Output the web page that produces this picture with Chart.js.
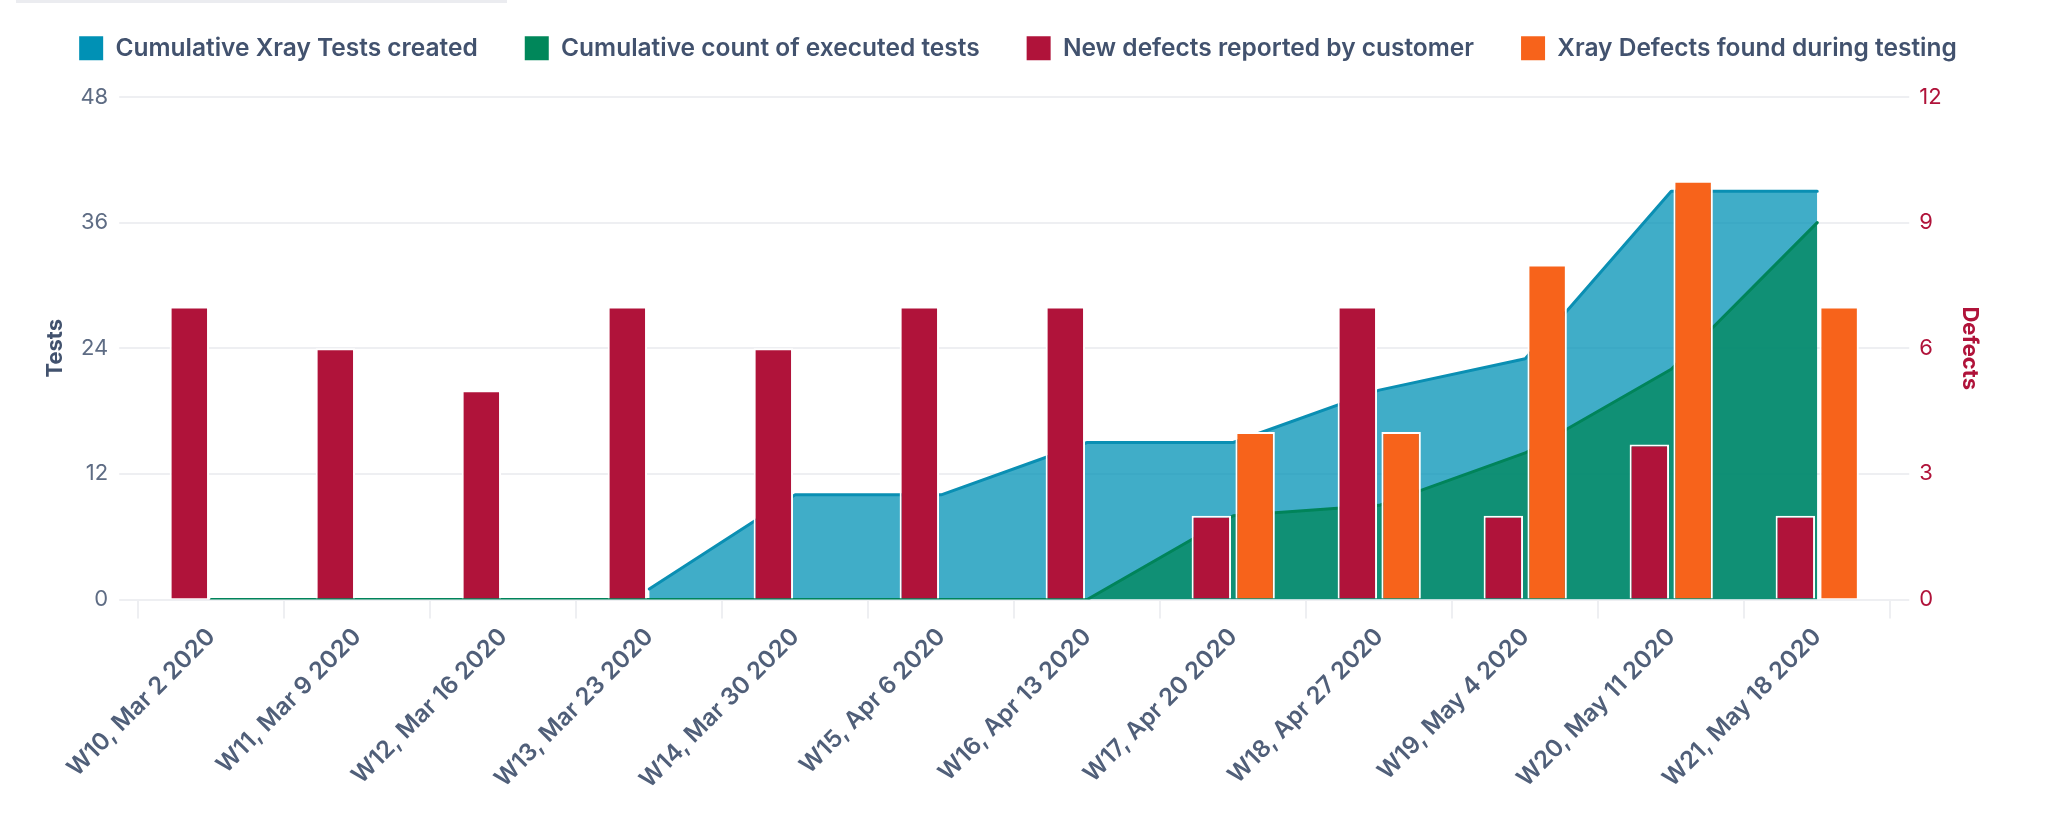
<!DOCTYPE html>
<html>
<head>
<meta charset="utf-8">
<title>Xray tests and defects per week</title>
<script src="https://cdn.jsdelivr.net/npm/chart.js@4.4.1/dist/chart.umd.min.js"></script>
<style>
    html, body { margin: 0; padding: 0; background: #ffffff; }
    #wrap { position: relative; width: 2058px; height: 822px; }
    #tabline { position: absolute; left: 16px; top: 0; width: 491px; height: 3px; background: #ebecf0; }
</style>
</head>
<body>
<div id="wrap">
    <div id="tabline"></div>
    <canvas id="testsChart"></canvas>
</div>
<script>
// Weeks on the x axis
const weeks = [
    'W10, Mar 2 2020', 'W11, Mar 9 2020', 'W12, Mar 16 2020', 'W13, Mar 23 2020',
    'W14, Mar 30 2020', 'W15, Apr 6 2020', 'W16, Apr 13 2020', 'W17, Apr 20 2020',
    'W18, Apr 27 2020', 'W19, May 4 2020', 'W20, May 11 2020', 'W21, May 18 2020'
];

// Left axis (Tests)
const testsCreated = [null, null, null, 1, 10, 10, 15, 15, 20, 23, 39, 39];
const testsExecuted = [0, 0, 0, 0, 0, 0, 0, 8, 9, 14, 22, 36];

// Right axis (Defects)
const customerDefects = [7, 6, 5, 7, 6, 7, 7, 2, 7, 2, 3.7, 2];
const testingDefects = [null, null, null, null, null, null, null, 4, 4, 8, 10, 7];

const testTicks = [0, 12, 24, 36, 48];
const defectTicks = [0, 3, 6, 9, 12];

const slate = '#42526e';
const gridColor = '#eeeff2';
const crimson = '#b0133a';
const legendColors = ['#0091b5', '#00875a', crimson, '#f7631b'];

Chart.defaults.font.family = 'Inter, "Noto Sans", sans-serif';

const ctx = document.getElementById('testsChart');

new Chart(ctx, {
    type: 'bar',
    data: {
        labels: weeks,
        datasets: [
            {
                type: 'line',
                label: 'Cumulative Xray Tests created',
                data: testsCreated,
                yAxisID: 'tests',
                borderColor: '#0a8fb3',
                backgroundColor: 'rgba(0, 145, 181, 0.75)',
                fill: 'origin',
                borderWidth: 3,
                borderCapStyle: 'round',
                borderJoinStyle: 'round',
                pointRadius: 0,
                tension: 0,
                order: 3
            },
            {
                type: 'line',
                label: 'Cumulative count of executed tests',
                data: testsExecuted,
                yAxisID: 'tests',
                borderColor: '#00845a',
                backgroundColor: 'rgba(0, 135, 90, 0.75)',
                fill: 'origin',
                borderWidth: 3,
                borderCapStyle: 'round',
                borderJoinStyle: 'round',
                pointRadius: 0,
                tension: 0,
                order: 2
            },
            {
                label: 'New defects reported by customer',
                data: customerDefects,
                yAxisID: 'defects',
                backgroundColor: crimson,
                borderColor: '#ffffff',
                borderWidth: 2,
                categoryPercentage: 0.6,
                barPercentage: 0.9,
                order: 0
            },
            {
                label: 'Xray Defects found during testing',
                data: testingDefects,
                yAxisID: 'defects',
                backgroundColor: '#f7631b',
                borderColor: '#ffffff',
                borderWidth: 2,
                categoryPercentage: 0.6,
                barPercentage: 0.9,
                order: 1
            }
        ]
    },
    options: {
        responsive: true,
        maintainAspectRatio: false,
        animation: false,
        events: [],
        layout: {
            padding: { left: 0, right: 22, top: -11, bottom: 24 }
        },
        plugins: {
            tooltip: { enabled: false },
            // empty spacer between legend and plot
            title: {
                display: true,
                text: ' ',
                position: 'top',
                weight: 500,
                font: { size: 26.5, lineHeight: 1 },
                padding: 0
            },
            legend: {
                position: 'top',
                align: 'center',
                labels: {
                    boxWidth: 24,
                    boxHeight: 24,
                    padding: 47,
                    color: slate,
                    font: { size: 24.5, weight: '600' },
                    generateLabels: function(chart) {
                        return chart.data.datasets.map((ds, i) => ({
                            text: ds.label,
                            fillStyle: legendColors[i],
                            strokeStyle: legendColors[i],
                            lineWidth: 0,
                            fontColor: slate,
                            hidden: false,
                            datasetIndex: i
                        }));
                    }
                }
            }
        },
        scales: {
            x: {
                offset: true,
                grid: {
                    offset: true,
                    drawOnChartArea: false,
                    drawTicks: true,
                    tickLength: 19,
                    color: gridColor,
                    lineWidth: 2
                },
                border: { display: false },
                ticks: {
                    autoSkip: false,
                    minRotation: 45,
                    maxRotation: 45,
                    padding: 4,
                    color: '#505f79',
                    font: { size: 24, weight: '600' }
                }
            },
            tests: {
                type: 'linear',
                position: 'left',
                min: testTicks[0],
                max: testTicks[testTicks.length - 1],
                afterBuildTicks: function(scale) {
                    scale.ticks = testTicks.map(v => ({ value: v }));
                },
                grid: {
                    color: gridColor,
                    lineWidth: 2,
                    tickLength: 19
                },
                border: { display: false },
                ticks: {
                    padding: 11,
                    color: '#5e6c84',
                    font: { size: 22 }
                },
                title: {
                    display: true,
                    text: 'Tests',
                    color: slate,
                    font: { size: 22, weight: '700' },
                    padding: { top: 42, bottom: 1 }
                }
            },
            defects: {
                type: 'linear',
                position: 'right',
                min: defectTicks[0],
                max: defectTicks[defectTicks.length - 1],
                afterBuildTicks: function(scale) {
                    scale.ticks = defectTicks.map(v => ({ value: v }));
                },
                grid: {
                    drawOnChartArea: false,
                    color: gridColor,
                    lineWidth: 2,
                    tickLength: 19
                },
                border: { display: false },
                ticks: {
                    padding: 10,
                    color: crimson,
                    font: { size: 22 }
                },
                title: {
                    display: true,
                    text: 'Defects',
                    color: crimson,
                    font: { size: 22, weight: '700' },
                    padding: { top: 53, bottom: 5 }
                }
            }
        }
    }
});
</script>
</body>
</html>
